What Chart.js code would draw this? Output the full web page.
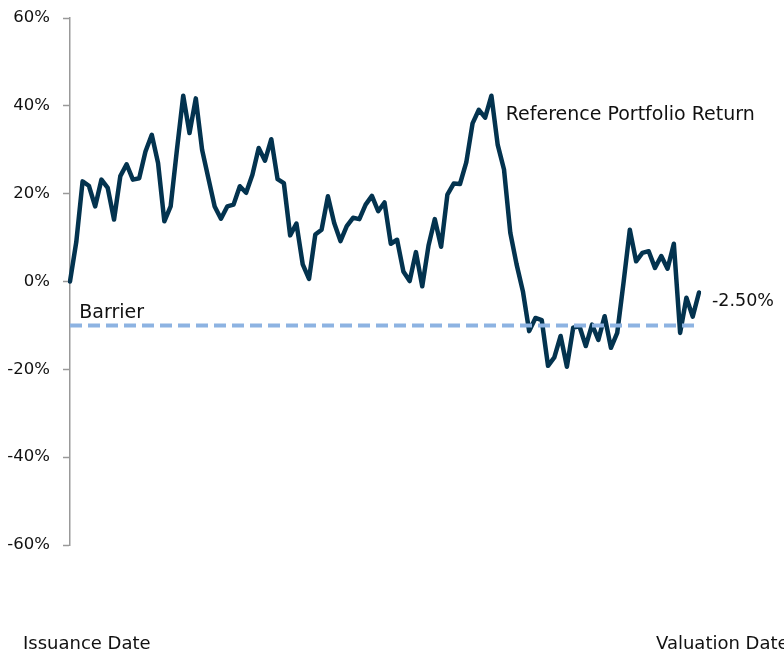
<!DOCTYPE html>
<html>
<head>
<meta charset="utf-8">
<script src="https://cdn.jsdelivr.net/npm/chart.js@4"></script>
<style>
  html, body { margin: 0; padding: 0; background: #fff; }
  #wrap { width: 784px; height: 666px; }
</style>
</head>
<body>
<div id="wrap"><canvas id="chart" width="784" height="666"></canvas></div>
<script>
// portfolio return, %
var portfolio = [
  0, 9, 22.8, 21.8, 17.1, 23.2, 21.3, 14.1, 24.0, 26.7, 23.2, 23.5, 29.6, 33.4, 27.0, 13.7, 17.1,
  30.0, 42.3, 33.8, 41.7, 30.0, 23.5, 17.1, 14.3, 17.1, 17.5, 21.7, 20.2, 24.3, 30.4, 27.5, 32.4, 23.3,
  22.4, 10.5, 13.2, 3.9, 0.6, 10.7, 11.8, 19.4, 13.3, 9.2, 12.6, 14.5, 14.2, 17.5, 19.5, 16.0, 18.0,
  8.6, 9.5, 2.3, 0.1, 6.7, -1.1, 8.2, 14.2, 7.9, 19.8, 22.3, 22.2, 27.1, 36.0, 39.1, 37.3, 42.3, 31.1,
  25.5, 11.1, 3.9, -2.2, -11.3, -8.3, -8.8, -19.2, -17.3, -12.4, -19.4, -10.5, -10.2, -14.7, -9.8,
  -13.3, -7.9, -15.1, -11.7, -0.3, 11.8, 4.6, 6.5, 6.9, 3.1, 5.8, 2.9, 8.6, -11.7, -3.7, -8.0, -2.5
];
var barrierLevel = -10;
var yTicks = [-60, -40, -20, 0, 20, 40, 60];
var dateLabels = ['Issuance Date', 'Valuation Date'];
var seriesName = 'Reference Portfolio Return';
var barrierName = 'Barrier';

var labels = portfolio.map(function(v, i) { return i; });
var barrier = portfolio.map(function() { return barrierLevel; });

var FONT = '"DejaVu Sans", sans-serif';

var textPlugin = {
  id: 'texts',
  afterDraw: function(chart) {
    var ctx = chart.ctx;
    var x = chart.scales.x, y = chart.scales.y;
    var last = portfolio.length - 1;
    ctx.save();
    ctx.fillStyle = '#111';
    ctx.textBaseline = 'middle';
    ctx.textAlign = 'left';
    // series name next to the peak
    ctx.font = '19px ' + FONT;
    ctx.fillText(seriesName, x.getPixelForValue(68) + 8, y.getPixelForValue(38));
    // barrier label
    ctx.fillText(barrierName, x.getPixelForValue(1) + 3, y.getPixelForValue(barrierLevel) - 12);
    // end value
    ctx.font = '17.5px ' + FONT;
    ctx.fillText(portfolio[last].toFixed(2) + '%', x.getPixelForValue(last) + 13, y.getPixelForValue(portfolio[last]) + 9);
    // dates under the plot
    ctx.font = '18px ' + FONT;
    ctx.fillText(dateLabels[0], x.left - 47, chart.chartArea.bottom + 99);
    ctx.fillText(dateLabels[1], x.right - 43, chart.chartArea.bottom + 99);
    ctx.restore();
  }
};

new Chart(document.getElementById('chart').getContext('2d'), {
  type: 'line',
  data: {
    labels: labels,
    datasets: [{
      label: barrierName,
      data: barrier,
      borderColor: '#8db3e2',
      borderWidth: 4,
      borderDash: [12, 6],
      pointRadius: 0,
      order: 0
    }, {
      label: seriesName,
      data: portfolio,
      borderColor: '#03334f',
      borderWidth: 4.5,
      borderJoinStyle: 'round',
      borderCapStyle: 'round',
      pointRadius: 0,
      tension: 0,
      order: 1
    }]
  },
  options: {
    responsive: false,
    animation: false,
    layout: { padding: { top: 18, right: 85, bottom: 121, left: 0 } },
    plugins: {
      legend: { display: false },
      tooltip: { enabled: false }
    },
    scales: {
      x: { display: false },
      y: {
        min: -60,
        max: 60,
        afterFit: function(scale) {
          scale.width = 70;
          scale.paddingTop = 0;
          scale.paddingBottom = 0;
        },
        afterBuildTicks: function(scale) {
          scale.ticks = yTicks.map(function(v) { return { value: v }; });
        },
        ticks: {
          padding: 13,
          color: '#111',
          font: { family: FONT, size: 16.5 },
          callback: function(v) { return v + '%'; }
        },
        grid: {
          drawOnChartArea: false,
          tickLength: 7,
          tickWidth: 1.5,
          tickColor: '#999'
        },
        border: { display: true, color: '#999', width: 1.5 }
      }
    }
  },
  plugins: [textPlugin]
});
</script>
</body>
</html>
